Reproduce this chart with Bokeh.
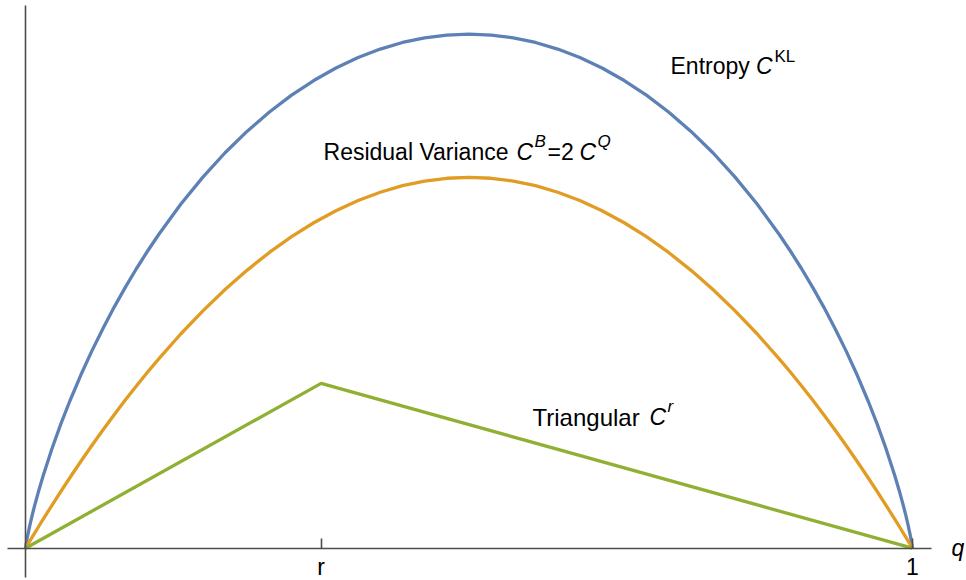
from bokeh.plotting import figure
from bokeh.models import Range1d, FixedTicker, Label
from bokeh.embed import file_html
from bokeh.resources import INLINE

# ---- data ----
q = [0, 0.002, 0.005, 0.0075, 0.01, 0.015, 0.02, 0.03, 0.04, 0.05, 0.0625, 0.075,
     0.0875, 0.1, 0.1125, 0.125, 0.1375, 0.15, 0.175, 0.2, 0.225, 0.25, 0.275, 0.3,
     0.325, 0.35, 0.375, 0.4, 0.425, 0.45, 0.475, 0.5,
     0.525, 0.55, 0.575, 0.6, 0.625, 0.65, 0.675, 0.7, 0.725, 0.75, 0.775, 0.8,
     0.825, 0.85, 0.8625, 0.875, 0.8875, 0.9, 0.9125, 0.925, 0.9375, 0.95, 0.96,
     0.97, 0.98, 0.985, 0.99, 0.9925, 0.995, 0.998, 1]
entropy = [0, 0.0144, 0.0315, 0.0442, 0.0560, 0.0779, 0.0980, 0.1347, 0.1679, 0.1985,
           0.2338, 0.2664, 0.2967, 0.3251, 0.3517, 0.3768, 0.4004, 0.4227, 0.4637,
           0.5004, 0.5332, 0.5623, 0.5882, 0.6109, 0.6306, 0.6475, 0.6616, 0.6730,
           0.6819, 0.6881, 0.6919, 0.6931,
           0.6919, 0.6881, 0.6819, 0.6730, 0.6616, 0.6475, 0.6306, 0.6109, 0.5882,
           0.5623, 0.5332, 0.5004, 0.4637, 0.4227, 0.4004, 0.3768, 0.3517, 0.3251,
           0.2967, 0.2664, 0.2338, 0.1985, 0.1679, 0.1347, 0.0980, 0.0779, 0.0560,
           0.0442, 0.0315, 0.0144, 0]
variance = [0, 0.0040, 0.0100, 0.0149, 0.0198, 0.0296, 0.0392, 0.0582, 0.0768, 0.0950,
            0.1172, 0.1388, 0.1597, 0.1800, 0.1997, 0.2188, 0.2372, 0.2550, 0.2888,
            0.3200, 0.3488, 0.3750, 0.3988, 0.4200, 0.4388, 0.4550, 0.4688, 0.4800,
            0.4888, 0.4950, 0.4988, 0.5000,
            0.4988, 0.4950, 0.4888, 0.4800, 0.4688, 0.4550, 0.4388, 0.4200, 0.3988,
            0.3750, 0.3488, 0.3200, 0.2888, 0.2550, 0.2372, 0.2188, 0.1997, 0.1800,
            0.1597, 0.1388, 0.1172, 0.0950, 0.0768, 0.0582, 0.0392, 0.0296, 0.0198,
            0.0149, 0.0100, 0.0040, 0]
q_tri = [0, 0.3333, 1]
triangular = [0, 0.2222, 0]
tick_values = [0.3333, 1]
tick_labels = ["r", "1"]

FONT = "Liberation Sans"
BLUE, ORANGE, GREEN = "#5E81B5", "#E19C24", "#8FB032"
AXIS = "#4d4d4d"

p = figure(width=966, height=580, output_backend="svg", toolbar_location=None,
           x_range=Range1d(-0.02818, 1.0609), y_range=Range1d(-0.04355, 0.7385),
           min_border=0)
p.outline_line_color = None
p.grid.visible = False
p.background_fill_color = "white"
p.border_fill_color = "white"

p.line(q, entropy, line_color=BLUE, line_width=3.3, line_join="round")
p.line(q, variance, line_color=ORANGE, line_width=3.3, line_join="round")
p.line(q_tri, triangular, line_color=GREEN, line_width=3.3, line_join="round")

xa = p.xaxis[0]
xa.fixed_location = 0
xa.ticker = FixedTicker(ticks=tick_values)
xa.major_label_overrides = {v: t for v, t in zip(tick_values, tick_labels)}
xa.bounds = (-0.0203, 1.0214)
xa.axis_line_color = AXIS
xa.axis_line_width = 1.6
xa.major_tick_line_color = AXIS
xa.major_tick_line_width = 1.6
xa.major_tick_in = 10
xa.major_tick_out = 0
xa.minor_tick_line_color = None
xa.major_label_text_font = FONT
xa.major_label_text_font_size = "23px"
xa.major_label_text_color = "black"
xa.major_label_standoff = 6

ya = p.yaxis[0]
ya.fixed_location = 0
ya.ticker = FixedTicker(ticks=[])
ya.bounds = (-0.0395, 0.7318)
ya.axis_line_color = AXIS
ya.axis_line_width = 1.6
ya.major_tick_line_color = None
ya.minor_tick_line_color = None
ya.major_label_text_font_size = "0px"

LIFT = 8


def add_text(x, y, pieces):
    for text, dx, dy, size, style in pieces:
        p.add_layout(Label(x=x, y=y, x_offset=dx, y_offset=dy + LIFT, text=text,
                           text_font=FONT, text_font_size=size, text_font_style=style,
                           text_color="black", text_baseline="alphabetic",
                           text_align="left"))


add_text(0.7272, 0.6397, [("Entropy", 0, 0, "23px", "normal"),
                          ("C", 85.6, 0, "23px", "italic"),
                          ("KL", 104, 9, "17px", "normal")])
add_text(0.3360, 0.5237, [("Residual Variance", 0, 0, "23px", "normal"),
                          ("C", 193, 0, "23px", "italic"),
                          ("B", 211, 10, "17px", "italic"),
                          ("=2", 224, 0, "23px", "normal"),
                          ("C", 256, 0, "23px", "italic"),
                          ("Q", 274, 10, "17px", "italic")])
add_text(0.5716, 0.1661, [("Triangular", 0, 0, "24px", "normal"),
                          ("C", 117, 0, "23px", "italic"),
                          ("r", 135, 11, "17px", "italic")])
add_text(1.044, 0, [("q", 0, -7.3, "23px", "italic")])

open("out.html", "w").write(file_html(p, INLINE))
